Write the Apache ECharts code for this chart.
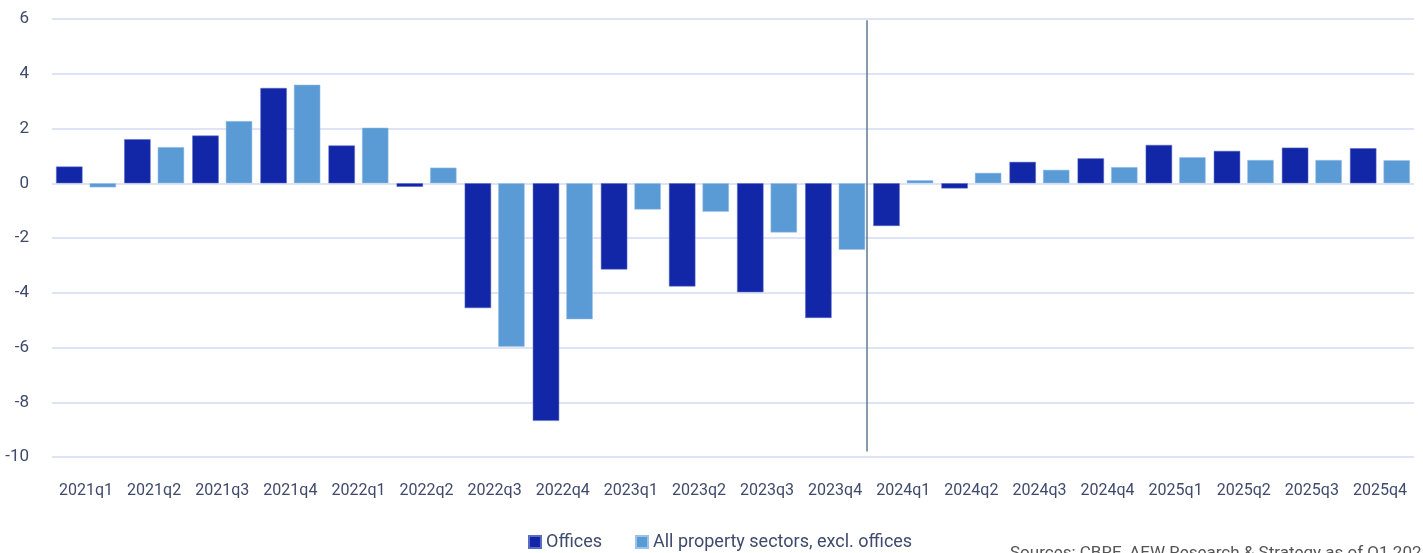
<!DOCTYPE html>
<html>
<head>
<meta charset="utf-8">
<script src="https://cdn.jsdelivr.net/npm/echarts@6/dist/echarts.min.js"></script>
<style>
  html, body { margin: 0; padding: 0; background: #fff; }
  #chart { width: 1423px; height: 553px; }
</style>
</head>
<body>
<div id="chart"></div>
<script>
// quarters on the x axis
var quarters = ['2021q1', '2021q2', '2021q3', '2021q4', '2022q1', '2022q2', '2022q3', '2022q4',
  '2023q1', '2023q2', '2023q3', '2023q4', '2024q1', '2024q2', '2024q3', '2024q4',
  '2025q1', '2025q2', '2025q3', '2025q4'];
var offices = [0.61, 1.61, 1.74, 3.48, 1.38, -0.13, -4.56, -8.68, -3.15, -3.77, -3.98, -4.92,
  -1.56, -0.19, 0.78, 0.91, 1.40, 1.18, 1.30, 1.28];
var allSectors = [-0.15, 1.32, 2.27, 3.60, 2.03, 0.57, -5.97, -4.97, -0.96, -1.04, -1.80, -2.43,
  0.11, 0.38, 0.49, 0.59, 0.95, 0.85, 0.85, 0.84];
// forecast starts at 2024q1 (boundary index in quarters)
var forecastStart = 12;

var textColor = '#3f4a6c';
var font = 'Roboto, "Liberation Sans", sans-serif';

var chart = echarts.init(document.getElementById('chart'));
var option = {
  animation: false,
  textStyle: { fontFamily: font },
  grid: { left: 52, right: 9, top: 19, bottom: 96 },
  legend: {
    data: ['Offices', 'All property sectors, excl. offices'],
    left: 523,
    top: 528,
    itemWidth: 12,
    itemHeight: 12,
    itemGap: 33,
    icon: 'rect',
    textStyle: { color: textColor, fontSize: 18, fontFamily: font }
  },
  xAxis: [
    {
      type: 'category',
      data: quarters,
      axisLine: { show: false, onZero: false },
      axisTick: { show: false },
      axisLabel: { interval: 0, color: textColor, fontSize: 16, margin: 26, fontFamily: font }
    },
    {
      type: 'value',
      min: 0,
      max: quarters.length,
      show: false
    }
  ],
  yAxis: {
    type: 'value',
    min: -10,
    max: 6,
    interval: 2,
    axisLine: { show: false },
    axisTick: { show: false },
    axisLabel: { color: textColor, fontSize: 17, margin: 23, fontFamily: font },
    splitLine: { lineStyle: { color: '#d4dbf1', width: 1.5 } }
  },
  series: [
    {
      name: 'Offices',
      type: 'bar',
      data: offices,
      barGap: '27%',
      barCategoryGap: '12%',
      itemStyle: { color: '#1226a8', borderColor: '#5a6cc4', borderWidth: 0.5 }
    },
    {
      name: 'All property sectors, excl. offices',
      type: 'bar',
      data: allSectors,
      itemStyle: { color: '#5b9bd5', borderColor: '#9cc2e8', borderWidth: 0.5 }
    },
    {
      type: 'line',
      xAxisIndex: 1,
      data: [],
      silent: true,
      markLine: {
        silent: true,
        symbol: 'none',
        label: { show: false },
        lineStyle: { color: '#5f7893', width: 1.5, type: 'solid' },
        data: [[{ coord: [forecastStart - 0.03, 5.95] }, { coord: [forecastStart - 0.03, -9.8] }]]
      }
    }
  ],
  graphic: [
    {
      type: 'text',
      left: 1010,
      top: 545,
      style: {
        text: 'Sources: CBRE, AEW Research & Strategy as of Q1 2024',
        fill: '#555',
        font: '17px ' + font
      }
    }
  ]
};
chart.setOption(option);
</script>
</body>
</html>
